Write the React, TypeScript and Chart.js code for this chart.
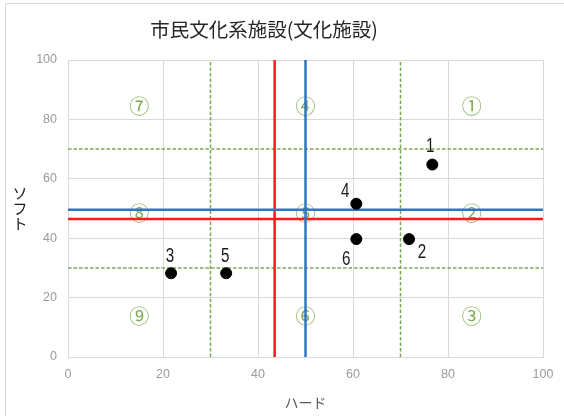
import { useEffect, useRef } from "react";
import { Chart, registerables } from "chart.js";

Chart.register(...registerables);

// Text
const chartTitle = "市民文化系施設(文化施設)";
const hardTitle = "ハード";
const softTitle = ["ソ", "フ", "ト"];

// Axis range and tick step
const axisMin = 0;
const axisMax = 100;
const tickStep = 20;

// Facilities: id, hard score, soft score
const facilityIds = ["1", "2", "3", "4", "5", "6"];
const hardScores = [76.7, 71.8, 21.7, 60.7, 33.3, 60.7];
const softScores = [64.8, 39.7, 28.2, 51.6, 28.2, 39.7];

// Reference lines
const averageHard = 43.5;
const averageSoft = 46.5;
const centerHard = 50;
const centerSoft = 49.6;
const lowerBand = 30;
const upperBand = 70;

// Zone markers
const zoneMarks = ["⑦", "④", "①", "⑧", "⑤", "②", "⑨", "⑥", "③"];
const zoneHard = [15, 50, 85, 15, 50, 85, 15, 50, 85];
const zoneSoft = [84.5, 84.5, 84.5, 48.5, 48.5, 48.5, 13.5, 13.5, 13.5];

// Pixel offsets of each facility label from its dot
const labelOffsets: [number, number][] = [
  [-2, -18],
  [13, 13],
  [-1, -17],
  [-11, -12],
  [-1, -17],
  [-10, 20],
];

const GREEN = "#7fa653";
const ZONE_GREEN = "#7eab50";
const GRID = "#d9d9d9";

function vLine(x: number) {
  return [
    { x, y: axisMin },
    { x, y: axisMax },
  ];
}
function hLine(y: number) {
  return [
    { x: axisMin, y },
    { x: axisMax, y },
  ];
}

const overlayPlugin = {
  id: "overlay",
  beforeDraw(chart: any) {
    const ctx = chart.ctx;
    ctx.save();
    ctx.fillStyle = "#ffffff";
    ctx.fillRect(0, 0, chart.width, chart.height);
    ctx.strokeStyle = GRID;
    ctx.lineWidth = 1;
    ctx.beginPath();
    ctx.moveTo(5.5, chart.height);
    ctx.lineTo(5.5, 3.5);
    ctx.lineTo(chart.width, 3.5);
    ctx.stroke();
    ctx.restore();
  },
  beforeDatasetsDraw(chart: any) {
    const ctx = chart.ctx;
    const xs = chart.scales.x;
    const ys = chart.scales.y;
    ctx.save();
    ctx.fillStyle = ZONE_GREEN;
    ctx.font = '20px "Noto Sans CJK JP"';
    ctx.textAlign = "center";
    ctx.textBaseline = "middle";
    zoneMarks.forEach((m, i) => {
      ctx.fillText(m, xs.getPixelForValue(zoneHard[i]), ys.getPixelForValue(zoneSoft[i]));
    });
    ctx.restore();
  },
  afterDatasetsDraw(chart: any) {
    const ctx = chart.ctx;
    const xs = chart.scales.x;
    const ys = chart.scales.y;
    const area = chart.chartArea;
    ctx.save();

    // facility labels
    ctx.fillStyle = "#1a1a1a";
    ctx.font = '20px "Liberation Sans"';
    ctx.textAlign = "center";
    ctx.textBaseline = "middle";
    facilityIds.forEach((id, i) => {
      const px = xs.getPixelForValue(hardScores[i]) + labelOffsets[i][0];
      const py = ys.getPixelForValue(softScores[i]) + labelOffsets[i][1];
      ctx.save();
      ctx.translate(px, py);
      ctx.scale(0.76, 1);
      ctx.fillText(id, 0, 0);
      ctx.restore();
    });

    // chart title
    ctx.fillStyle = "#262626";
    ctx.font = '19.5px "Noto Sans CJK JP"';
    ctx.fillText(chartTitle, 264, 30);

    // x axis title
    ctx.fillStyle = "#595959";
    ctx.font = '14px "Noto Sans CJK JP"';
    ctx.fillText(hardTitle, (area.left + area.right) / 2, 403);

    // y axis title, stacked vertically
    ctx.fillStyle = "#1a1a1a";
    ctx.font = '15px "Noto Sans CJK JP"';
    const midY = (area.top + area.bottom) / 2;
    softTitle.forEach((ch, i) => {
      ctx.fillText(ch, 20, midY + (i - 1) * 15);
    });
    ctx.restore();
  },
};

export default function App() {
  const canvasRef = useRef<HTMLCanvasElement | null>(null);

  useEffect(() => {
    const canvas = canvasRef.current;
    if (!canvas) return;

    const lineBase = {
      type: "line" as const,
      showLine: true,
      pointRadius: 0,
      pointHoverRadius: 0,
      fill: false,
      tension: 0,
    };

    const chart = new Chart(canvas, {
      type: "scatter",
      data: {
        datasets: [
          {
            label: "施設",
            data: hardScores.map((x, i) => ({ x, y: softScores[i] })),
            backgroundColor: "#000000",
            borderColor: "#000000",
            pointRadius: 5.5,
            pointHoverRadius: 5.5,
            order: 0,
          },
          { ...lineBase, label: "中央H", data: vLine(centerHard), borderColor: "#2e75c6", borderWidth: 2.5, order: 1 },
          { ...lineBase, label: "中央S", data: hLine(centerSoft), borderColor: "#2e75c6", borderWidth: 2.5, order: 1 },
          { ...lineBase, label: "平均H", data: vLine(averageHard), borderColor: "#ff1a1a", borderWidth: 2.5, order: 2 },
          { ...lineBase, label: "平均S", data: hLine(averageSoft), borderColor: "#ff1a1a", borderWidth: 2.5, order: 2 },
          { ...lineBase, label: "H30", data: vLine(lowerBand), borderColor: GREEN, borderWidth: 1.5, borderDash: [3.5, 2], order: 3 },
          { ...lineBase, label: "H70", data: vLine(upperBand), borderColor: GREEN, borderWidth: 1.5, borderDash: [3.5, 2], order: 3 },
          { ...lineBase, label: "S30", data: hLine(lowerBand), borderColor: GREEN, borderWidth: 1.5, borderDash: [3.5, 2], order: 3 },
          { ...lineBase, label: "S70", data: hLine(upperBand), borderColor: GREEN, borderWidth: 1.5, borderDash: [3.5, 2], order: 3 },
        ] as any,
      },
      options: {
        animation: false,
        responsive: false,
        devicePixelRatio: 1,
        layout: { padding: { left: 0, right: 21, top: 60, bottom: 0 } },
        plugins: {
          legend: { display: false },
          title: { display: false },
          tooltip: { enabled: false },
        },
        scales: {
          x: {
            type: "linear",
            min: axisMin,
            max: axisMax,
            ticks: {
              stepSize: tickStep,
              color: "#9a9a9a",
              font: { family: '"Liberation Sans"', size: 12.5 },
              padding: 10,
            },
            grid: { color: GRID, lineWidth: 1, drawTicks: false },
            border: { color: GRID },
            afterFit: (scale: any) => {
              scale.height = 59;
            },
          },
          y: {
            type: "linear",
            min: axisMin,
            max: axisMax,
            ticks: {
              stepSize: tickStep,
              color: "#9a9a9a",
              font: { family: '"Liberation Sans"', size: 12.5 },
              padding: 11,
            },
            grid: { color: GRID, lineWidth: 1, drawTicks: false },
            border: { color: GRID },
            afterFit: (scale: any) => {
              scale.width = 68;
            },
          },
        },
      },
      plugins: [overlayPlugin],
    });

    return () => chart.destroy();
  }, []);

  return (
    <div style={{ position: "fixed", left: 0, top: 0, width: 564, height: 416, background: "#fff" }}>
      <canvas ref={canvasRef} width={564} height={416} style={{ width: 564, height: 416, display: "block" }} />
    </div>
  );
}
